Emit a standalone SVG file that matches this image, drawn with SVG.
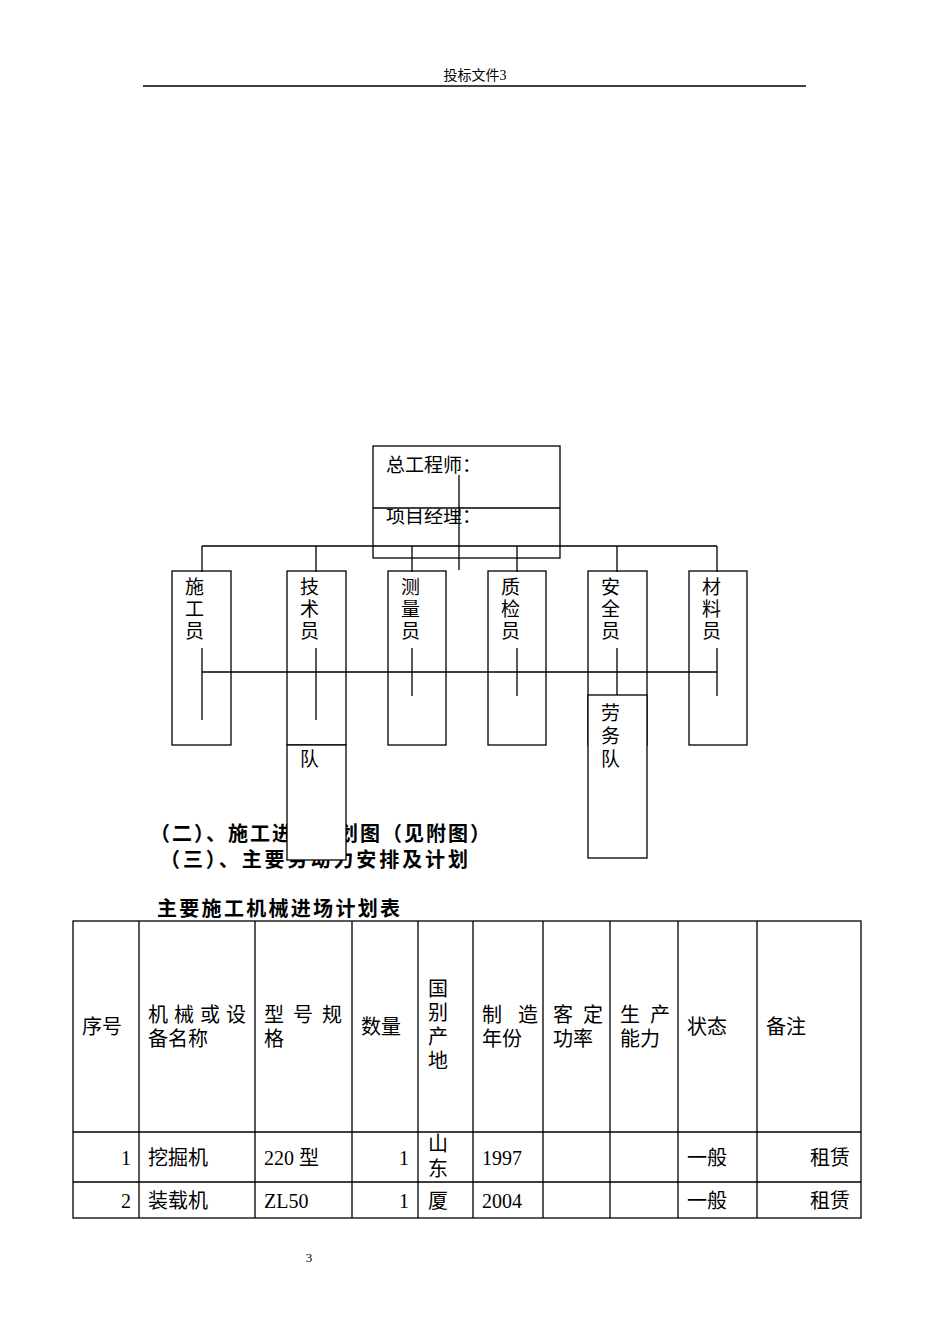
<svg xmlns="http://www.w3.org/2000/svg" width="950" height="1344" viewBox="0 0 950 1344">
<style>
text{font-family:"Liberation Serif","Noto Sans CJK SC",serif;fill:#000}
.n{font-size:19px}
.b{font-size:20px;font-weight:bold;font-family:"Noto Sans CJK SC",sans-serif}
.box{fill:#fff;stroke:#000;stroke-width:1.3}
.ln{stroke:#000;stroke-width:1.3;fill:none}
.t{font-size:20px}
</style>
<rect width="950" height="1344" fill="#fff"/>
<text x="475" y="80" font-size="14" text-anchor="middle">投标文件3</text>
<line class="ln" x1="143" y1="86" x2="806" y2="86"/>
<text class="b" x="150" y="841" textLength="340">（二）、施工进度计划图（见附图）</text>
<text class="b" x="160" y="867" textLength="308">（三）、主要劳动力安排及计划</text>
<g id="top"><rect class="box" x="373" y="446" width="187" height="112"/><line class="ln" x1="373" y1="508" x2="560" y2="508"/>
<text class="n" x="386" y="472">总工程师：</text>
<svg x="373" y="509" width="187" height="49" overflow="hidden"><text class="n" x="13" y="14">项目经理：</text></svg></g>
<g id="n1"><rect class="box" x="172" y="571" width="59" height="174"/><text class="n" x="185" y="594">施</text><text class="n" x="185" y="616">工</text><text class="n" x="185" y="638">员</text></g>
<g id="n2"><rect class="box" x="287" y="571" width="59" height="174"/><text class="n" x="300" y="594">技</text><text class="n" x="300" y="616">术</text><text class="n" x="300" y="638">员</text></g>
<g id="n3"><rect class="box" x="388" y="571" width="58" height="174"/><text class="n" x="401" y="594">测</text><text class="n" x="401" y="616">量</text><text class="n" x="401" y="638">员</text></g>
<g id="n4"><rect class="box" x="488" y="571" width="58" height="174"/><text class="n" x="501" y="594">质</text><text class="n" x="501" y="616">检</text><text class="n" x="501" y="638">员</text></g>
<g id="n5"><rect class="box" x="588" y="571" width="59" height="174"/><text class="n" x="601" y="594">安</text><text class="n" x="601" y="616">全</text><text class="n" x="601" y="638">员</text></g>
<g id="n6"><rect class="box" x="689" y="571" width="58" height="174"/><text class="n" x="702" y="594">材</text><text class="n" x="702" y="616">料</text><text class="n" x="702" y="638">员</text></g>
<g id="connectors">
<line class="ln" x1="459" y1="475" x2="459" y2="570"/>
<line class="ln" x1="202" y1="546" x2="717" y2="546"/>
<path class="ln" d="M202 546V572M316 546V572M412 546V572M517 546V572M617 546V572M717 546V572"/>
<line class="ln" x1="202" y1="672" x2="717" y2="672"/>
<path class="ln" d="M202 648V720M316 648V720M412 648V696M517 648V696M617 648V696M717 648V696"/>
</g>
<g id="n7"><rect class="box" x="287" y="745" width="59" height="115"/><text class="n" x="300" y="766">队</text></g>
<g id="n8"><rect class="box" x="588" y="695" width="59" height="163"/><text class="n" x="601" y="720">劳</text><text class="n" x="601" y="743">务</text><text class="n" x="601" y="766">队</text></g>
<text class="b" x="157" y="916" textLength="243">主要施工机械进场计划表</text>
<g id="table">
<rect class="ln" x="73" y="921" width="788" height="297"/>
<path class="ln" d="M73 1132H861M73 1182H861M139 921V1218M255 921V1218M352 921V1218M418 921V1218M473 921V1218M543 921V1218M610 921V1218M678 921V1218M757 921V1218"/>
<g class="t">
<text x="82" y="1034">序号</text>
<text x="148" y="1022" textLength="98">机械或设</text><text x="148" y="1046">备名称</text>
<text x="264" y="1022" textLength="78">型号规</text><text x="264" y="1046">格</text>
<text x="361" y="1034">数量</text>
<text x="428" y="996">国</text><text x="428" y="1020">别</text><text x="428" y="1044">产</text><text x="428" y="1068">地</text>
<text x="482" y="1022" textLength="56">制造</text><text x="482" y="1046">年份</text>
<text x="553" y="1022" textLength="50">客定</text><text x="553" y="1046">功率</text>
<text x="620" y="1022" textLength="50">生产</text><text x="620" y="1046">能力</text>
<text x="687" y="1034">状态</text>
<text x="766" y="1034">备注</text>
<text x="131" y="1165" text-anchor="end">1</text><text x="148" y="1165">挖掘机</text><text x="264" y="1165">220 型</text><text x="409" y="1165" text-anchor="end">1</text>
<text x="428" y="1151">山</text><text x="428" y="1176">东</text><text x="482" y="1165">1997</text><text x="687" y="1165">一般</text><text x="850" y="1165" text-anchor="end">租赁</text>
<text x="131" y="1208" text-anchor="end">2</text><text x="148" y="1208">装载机</text><text x="264" y="1208">ZL50</text><text x="409" y="1208" text-anchor="end">1</text>
<text x="428" y="1208">厦</text><text x="482" y="1208">2004</text><text x="687" y="1208">一般</text><text x="850" y="1208" text-anchor="end">租赁</text>
</g></g>
<text x="309" y="1262" font-size="13" text-anchor="middle">3</text>
</svg>
